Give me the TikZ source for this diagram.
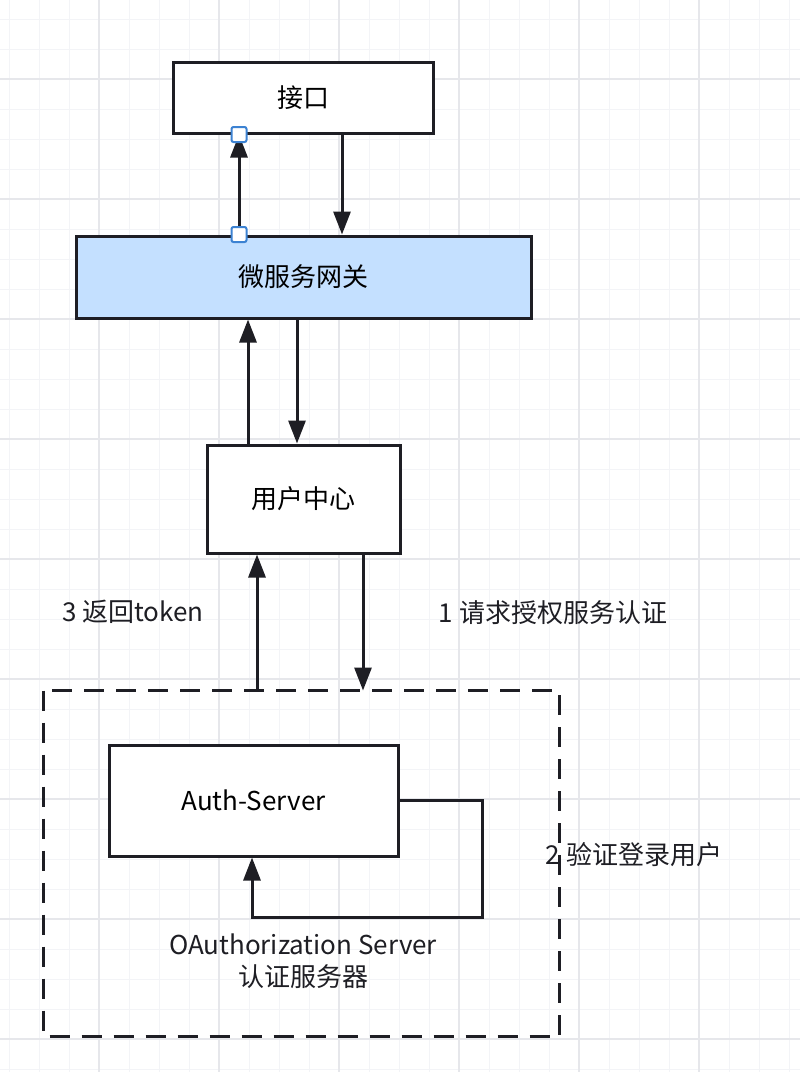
\documentclass[tikz,border=0pt]{standalone}
\usepackage{fontspec}
\setmainfont{Noto Sans CJK SC}
\usetikzlibrary{arrows.meta}

\definecolor{inkc}{RGB}{30,30,36}
\definecolor{gatefill}{RGB}{196,224,255}
\definecolor{handleblue}{RGB}{60,130,210}
\definecolor{gridminor}{RGB}{243,244,247}
\definecolor{gridmajor}{RGB}{230,231,235}

\tikzset{
  box/.style={draw=inkc,line width=3pt,fill=white,rectangle,inner sep=0pt},
  arr/.style={draw=inkc,line width=3pt,-{Triangle[width=17pt,length=23pt]}},
  handle/.style={draw=handleblue,fill=white,line width=2pt,rectangle,
    rounded corners=2pt,minimum size=15pt,inner sep=0pt},
  lbl/.style={text=inkc,inner sep=0pt}
}

\begin{document}
\begin{tikzpicture}
  [x=1pt,y=-1pt,every node/.style={font=\fontsize{26}{32}\selectfont}]
  \useasboundingbox[fill=white] (0,0) rectangle (800,1072);

  % background grid
  \foreach \gx in {9,39,...,789}
    \draw[gridminor,line width=1pt] (\gx,0) -- (\gx,1072);
  \foreach \gy in {19,49,...,1069}
    \draw[gridminor,line width=1pt] (0,\gy) -- (800,\gy);
  \foreach \gx in {99,219,...,699}
    \draw[gridmajor,line width=1.2pt] (\gx,0) -- (\gx,1072);
  \foreach \gy in {79,199,...,1039}
    \draw[gridmajor,line width=1.2pt] (0,\gy) -- (800,\gy);

  % boxes
  \node[box,minimum width=260pt,minimum height=71pt] (api) at (303,97.5) {接口};
  \node[box,fill=gatefill,minimum width=455pt,minimum height=82pt] (gw) at (303.5,277) {微服务网关};
  \node[box,minimum width=193pt,minimum height=108pt] (uc) at (303.5,499) {用户中心};
  \node[box,draw=none,fill=none,minimum width=513pt,minimum height=343pt] (oauth) at (301.5,863.5) {};
  \draw[inkc,line width=3pt,dash pattern=on 20pt off 12pt] (oauth.north west) rectangle (oauth.south east);
  \node[box,minimum width=289pt,minimum height=111pt] (auth) at (253.5,800.5) {Auth-Server};

  % connectors
  \draw[arr] ([xshift=-64.5pt]gw.north) -- ([xshift=-64pt]api.south);
  \draw[arr] ([xshift=39pt]api.south) -- ([xshift=38.5pt]gw.north);
  \draw[arr] ([xshift=-55.5pt]uc.north) -- ([xshift=-55.5pt]gw.south);
  \draw[arr] ([xshift=-6.5pt]gw.south) -- ([xshift=-6.5pt]uc.north);
  \draw[arr] ([xshift=-44.5pt]oauth.north) -- ([xshift=-46.5pt]uc.south);
  \draw[arr] ([xshift=59.5pt]uc.south) -- ([xshift=61.5pt]oauth.north);
  \coordinate (loop) at (482,917);
  \draw[arr] (auth.east) -| (loop) -| ([xshift=-1.5pt]auth.south);

  % selection handles
  \node[handle] (h1) at ([xshift=-64pt]api.south) {};
  \node[handle] (h2) at ([xshift=-64.5pt]gw.north) {};

  % labels
  \node[lbl] (t3) at (133,612) {3 返回token};
  \node[lbl] (t1) at (553,613) {1 请求授权服务认证};
  \node[lbl] (t2) at (634,855) {2 验证登录用户};
  \node[lbl,align=center] (tos) at (303,961) {OAuthorization Server\\认证服务器};
\end{tikzpicture}
\end{document}
